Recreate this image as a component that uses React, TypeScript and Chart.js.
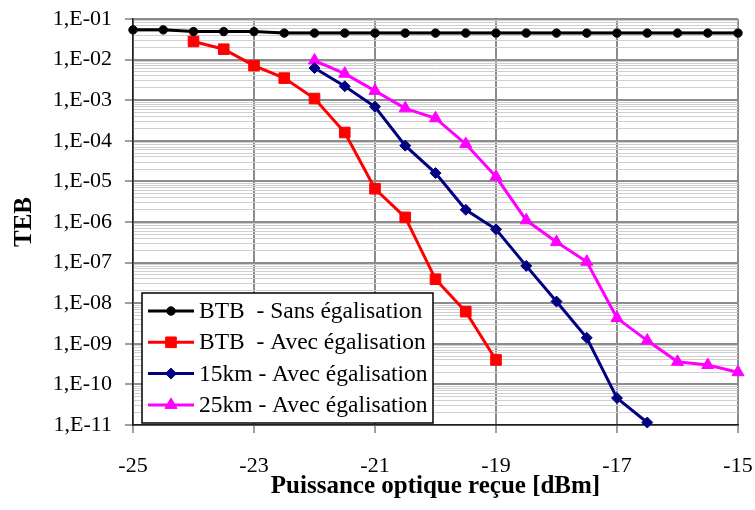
import React, { useEffect, useRef } from 'react';
import { Chart, registerables } from 'chart.js';

Chart.register(...registerables);

// ---- Data ----
const xBlack = [-25, -24.5, -24, -23.5, -23, -22.5, -22, -21.5, -21, -20.5, -20, -19.5, -19, -18.5, -18, -17.5, -17, -16.5, -16, -15.5, -15];
const tebBlack = [5.4e-2, 5.4e-2, 4.9e-2, 4.9e-2, 4.9e-2, 4.5e-2, 4.5e-2, 4.5e-2, 4.5e-2, 4.5e-2, 4.5e-2, 4.5e-2, 4.5e-2, 4.5e-2, 4.5e-2, 4.5e-2, 4.5e-2, 4.5e-2, 4.5e-2, 4.5e-2, 4.5e-2];

const xRed = [-24, -23.5, -23, -22.5, -22, -21.5, -21, -20.5, -20, -19.5, -19];
const tebRed = [2.8e-2, 1.8e-2, 7.1e-3, 3.5e-3, 1.1e-3, 1.6e-4, 6.6e-6, 1.3e-6, 3.9e-8, 6.2e-9, 4.0e-10];

const xNavy = [-22, -21.5, -21, -20.5, -20, -19.5, -19, -18.5, -18, -17.5, -17, -16.5];
const tebNavy = [6.2e-3, 2.2e-3, 6.9e-4, 7.6e-5, 1.6e-5, 2.0e-6, 6.6e-7, 8.3e-8, 1.1e-8, 1.4e-9, 4.6e-11, 1.15e-11];

const xMagenta = [-22, -21.5, -21, -20.5, -20, -19.5, -19, -18.5, -18, -17.5, -17, -16.5, -16, -15.5, -15];
const tebMagenta = [9.5e-3, 4.5e-3, 1.7e-3, 6.3e-4, 3.6e-4, 8.3e-5, 1.3e-5, 1.1e-6, 3.2e-7, 1.05e-7, 4.3e-9, 1.2e-9, 3.6e-10, 3.0e-10, 2.0e-10];

const seriesLabels = [
  'BTB  - Sans égalisation',
  'BTB  - Avec égalisation',
  '15km - Avec égalisation',
  '25km - Avec égalisation',
];

const yDecades = [1e-1, 1e-2, 1e-3, 1e-4, 1e-5, 1e-6, 1e-7, 1e-8, 1e-9, 1e-10, 1e-11];
const yDecadeLabels = ['1,E-01', '1,E-02', '1,E-03', '1,E-04', '1,E-05', '1,E-06', '1,E-07', '1,E-08', '1,E-09', '1,E-10', '1,E-11'];
const minorMultipliers = [2, 3, 4, 5, 6, 7, 8, 9];
const xTickStep = 2;

const SERIF = '"Liberation Serif", "Times New Roman", serif';

const toPoints = (xs: number[], ys: number[]) => xs.map((x, i) => ({ x, y: ys[i] }));
const decadeIndex = (v: number) => yDecades.findIndex((d) => Math.abs(v / d - 1) < 1e-6);

function drawMarker(ctx: CanvasRenderingContext2D, style: string, x: number, y: number, r: number) {
  ctx.beginPath();
  if (style === 'circle') {
    ctx.arc(x, y, r, 0, Math.PI * 2);
  } else if (style === 'rect') {
    const s = Math.SQRT1_2 * r;
    ctx.rect(x - s, y - s, 2 * s, 2 * s);
  } else if (style === 'rectRot') {
    ctx.moveTo(x, y - r);
    ctx.lineTo(x + r, y);
    ctx.lineTo(x, y + r);
    ctx.lineTo(x - r, y);
    ctx.closePath();
  } else if (style === 'triangle') {
    const a = (2 * Math.PI) / 3;
    ctx.moveTo(x, y - r);
    ctx.lineTo(x + Math.sin(a) * r, y - Math.cos(a) * r);
    ctx.lineTo(x + Math.sin(2 * a) * r, y - Math.cos(2 * a) * r);
    ctx.closePath();
  }
  ctx.fill();
  ctx.stroke();
}

const insideLegend = {
  id: 'insideLegend',
  afterDraw(chart: any) {
    const { ctx, chartArea } = chart;
    const left = chartArea.left + 9;
    const bottom = chartArea.bottom - 2;
    const w = 291;
    const h = 130;
    const top = bottom - h;
    ctx.save();
    ctx.fillStyle = '#ffffff';
    ctx.fillRect(left, top, w, h);
    ctx.strokeStyle = '#000000';
    ctx.lineWidth = 1.5;
    ctx.strokeRect(left, top, w, h);
    chart.data.datasets.forEach((ds: any, i: number) => {
      const cy = top + 18 + i * 31.3;
      ctx.strokeStyle = ds.borderColor;
      ctx.lineWidth = 3;
      ctx.beginPath();
      ctx.moveTo(left + 6, cy);
      ctx.lineTo(left + 52, cy);
      ctx.stroke();
      ctx.fillStyle = ds.pointBackgroundColor;
      ctx.strokeStyle = ds.borderColor;
      ctx.lineWidth = 1;
      drawMarker(ctx, ds.pointStyle, left + 29, cy, ds.pointRadius);
      ctx.fillStyle = '#000000';
      ctx.font = `23.5px ${SERIF}`;
      ctx.textBaseline = 'middle';
      ctx.textAlign = 'left';
      ctx.fillText(ds.label, left + 57, cy + 1);
    });
    ctx.restore();
  },
};

export default function App() {
  const canvasRef = useRef<HTMLCanvasElement | null>(null);

  useEffect(() => {
    document.body.style.margin = '0';
    const canvas = canvasRef.current;
    if (!canvas) return;

    const mk = (i: number, xs: number[], ys: number[], color: string, style: string, r: number) => ({
      label: seriesLabels[i],
      data: toPoints(xs, ys),
      borderColor: color,
      backgroundColor: color,
      pointBackgroundColor: color,
      pointBorderColor: color,
      pointBorderWidth: 1,
      pointStyle: style,
      pointRadius: r,
      borderWidth: 3,
      tension: 0,
      clip: false,
    });

    const chart = new Chart(canvas, {
      type: 'line',
      data: {
        datasets: [
          mk(0, xBlack, tebBlack, '#000000', 'circle', 4.2),
          mk(1, xRed, tebRed, '#ff0000', 'rect', 7.5),
          mk(2, xNavy, tebNavy, '#000080', 'rectRot', 5.5),
          mk(3, xMagenta, tebMagenta, '#ff00ff', 'triangle', 7),
        ] as any,
      },
      options: {
        animation: false,
        responsive: false,
        devicePixelRatio: 1,
        layout: { padding: { left: 0, right: 17, top: 19, bottom: 0 } },
        plugins: {
          legend: { display: false },
          tooltip: { enabled: false },
        },
        scales: {
          x: {
            type: 'linear',
            min: -25,
            max: -15,
            ticks: {
              stepSize: xTickStep,
              padding: 20,
              color: '#000000',
              font: { family: SERIF, size: 22 },
            },
            grid: {
              color: '#8c8c8c',
              lineWidth: 2,
              tickLength: 8,
              tickColor: '#404040',
              tickWidth: 1,
            },
            border: { color: '#202020', width: 1.5 },
            title: {
              display: true,
              text: 'Puissance optique reçue [dBm]',
              color: '#000000',
              font: { family: SERIF, size: 25, weight: 'bold' },
              padding: { top: 0, bottom: 8 },
            },
            afterFit: (s: any) => {
              s.height = 85;
              s.paddingLeft = 0;
              s.paddingRight = 0;
            },
          },
          y: {
            type: 'logarithmic',
            min: 1e-11,
            max: 1e-1,
            afterBuildTicks: (s: any) => {
              const t: { value: number }[] = [];
              yDecades.forEach((d, i) => {
                t.push({ value: d });
                if (i < yDecades.length - 1) {
                  const lower = yDecades[i + 1];
                  minorMultipliers.forEach((m) => t.push({ value: m * lower }));
                }
              });
              t.sort((a, b) => a.value - b.value);
              s.ticks = t;
            },
            ticks: {
              autoSkip: false,
              padding: 13,
              color: '#000000',
              font: { family: SERIF, size: 22 },
              callback: (v: any) => {
                const i = decadeIndex(Number(v));
                return i >= 0 ? yDecadeLabels[i] : '';
              },
            },
            grid: {
              color: (c: any) => (decadeIndex(c.tick?.value ?? 0) >= 0 ? '#8c8c8c' : '#cfcfcf'),
              lineWidth: (c: any) => (decadeIndex(c.tick?.value ?? 0) >= 0 ? 2 : 1),
              tickLength: 8,
              tickColor: (c: any) => (decadeIndex(c.tick?.value ?? 0) >= 0 ? '#404040' : 'rgba(0,0,0,0)'),
              tickWidth: 1,
            },
            border: { color: '#202020', width: 1.5 },
            title: {
              display: true,
              text: 'TEB',
              color: '#000000',
              font: { family: SERIF, size: 25, weight: 'bold' },
              padding: { top: 10, bottom: 0 },
            },
            afterFit: (s: any) => {
              s.width = 133;
              s.paddingTop = 0;
              s.paddingBottom = 0;
            },
          },
        },
      } as any,
      plugins: [insideLegend],
    });

    return () => {
      chart.destroy();
    };
  }, []);

  return (
    <div style={{ width: 755, height: 510, background: '#ffffff' }}>
      <canvas ref={canvasRef} width={755} height={510} style={{ display: 'block' }} />
    </div>
  );
}
